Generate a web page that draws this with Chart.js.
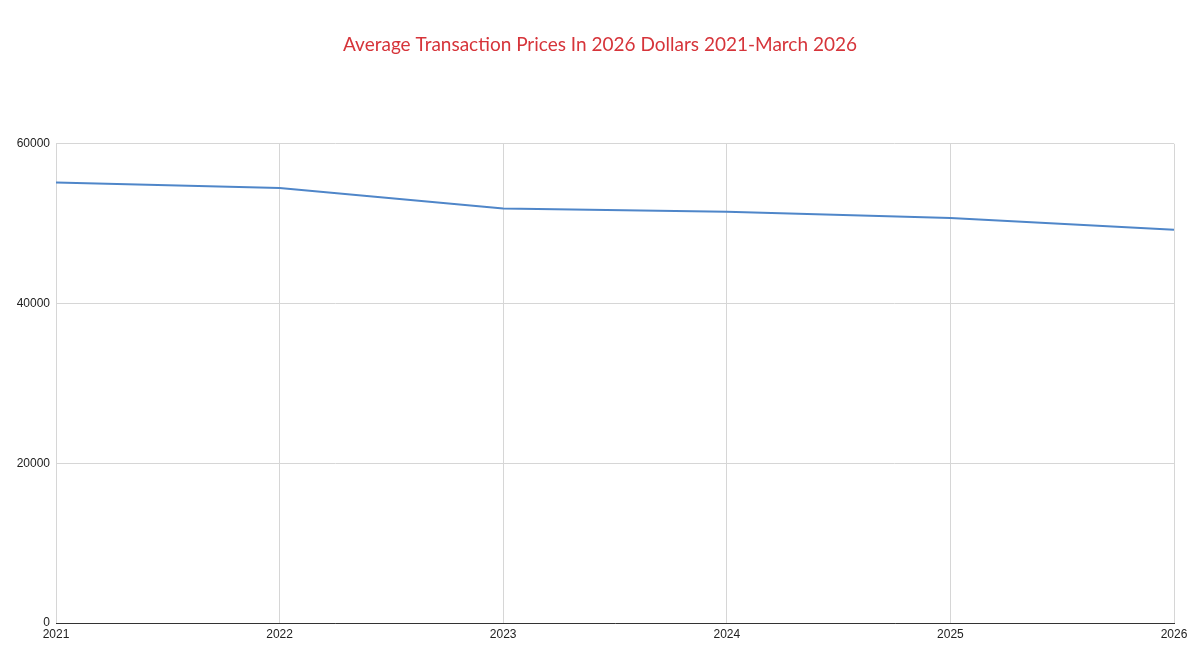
<!DOCTYPE html>
<html>
<head>
<meta charset="utf-8">
<script src="https://cdn.jsdelivr.net/npm/chart.js@4"></script>
<style>
html,body{margin:0;padding:0;background:#fff;}
#wrap{width:1200px;height:668px;position:relative;}
</style>
</head>
<body>
<div id="wrap"><canvas id="c" width="1200" height="668"></canvas></div>
<script>
const years = ['2021', '2022', '2023', '2024', '2025', '2026'];
const avgPrice = [55160, 54460, 51910, 51500, 50710, 49250];
const yTicks = [0, 20000, 40000, 60000];
const titleText = 'Average Transaction Prices In 2026 Dollars 2021-March 2026';

new Chart(document.getElementById('c'), {
  type: 'line',
  data: {
    labels: years,
    datasets: [{
      label: 'Average Transaction Price',
      data: avgPrice,
      borderColor: '#4f86c9',
      borderWidth: 2,
      pointRadius: 0,
      tension: 0,
      fill: false
    }]
  },
  options: {
    responsive: false,
    animation: false,
    layout: { padding: 0 },
    plugins: {
      legend: { display: false },
      tooltip: { enabled: false },
      title: {
        display: true,
        text: titleText,
        color: '#d6343a',
        font: { family: 'Lato, "Open Sans", sans-serif', size: 19, weight: 'normal' },
        padding: { top: 33, bottom: 88 }
      }
    },
    scales: {
      x: {
        type: 'category',
        offset: false,
        grid: { color: '#d6d6d6', drawTicks: false, lineWidth: 1 },
        border: { color: '#333333', width: 1 },
        ticks: {
          color: '#222',
          font: { family: '"Liberation Sans", Arial, sans-serif', size: 12 },
          padding: 4,
          maxRotation: 0,
          autoSkip: false
        },
        afterFit: s => { s.height = 45; }
      },
      y: {
        min: 0,
        max: 60000,
        afterBuildTicks: s => { s.ticks = yTicks.map(v => ({ value: v })); },
        grid: { color: '#d6d6d6', drawTicks: false, lineWidth: 1 },
        border: { display: false },
        ticks: {
          color: '#222',
          font: { family: '"Liberation Sans", Arial, sans-serif', size: 12 },
          padding: 6,
          callback: v => String(v)
        },
        afterFit: s => { s.width = 56; }
      },
      yRight: {
        position: 'right',
        min: 0,
        max: 60000,
        grid: { display: false },
        border: { display: false },
        ticks: { display: false },
        afterFit: s => { s.width = 26; }
      }
    }
  }
});
</script>
</body>
</html>
